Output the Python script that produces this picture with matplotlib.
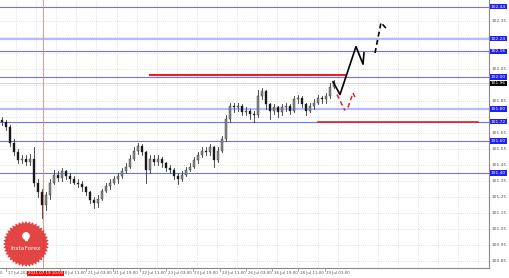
import numpy as np
import matplotlib
matplotlib.use("Agg")
import matplotlib.pyplot as plt
import matplotlib.patches as patches

# hourly candles (every candle here ~ a few bars of the original chart)
opens = [101.73, 101.72, 101.69, 101.59, 101.53, 101.48, 101.49, 101.47, 101.49, 101.34,
         101.28, 101.20, 101.26, 101.34, 101.39, 101.37, 101.41, 101.38, 101.36, 101.34,
         101.33, 101.31, 101.28, 101.23, 101.21, 101.24, 101.29, 101.32, 101.34, 101.36,
         101.38, 101.41, 101.44, 101.49, 101.54, 101.57, 101.53, 101.42, 101.49, 101.47,
         101.49, 101.46, 101.43, 101.42, 101.38, 101.36, 101.39, 101.42, 101.44, 101.48,
         101.51, 101.54, 101.53, 101.56, 101.48, 101.54, 101.61, 101.74, 101.82, 101.81,
         101.82, 101.78, 101.79, 101.77, 101.76, 101.88, 101.91, 101.83, 101.79, 101.81,
         101.78, 101.81, 101.82, 101.79, 101.86, 101.87, 101.83, 101.79, 101.82, 101.84,
         101.87, 101.86, 101.88, 101.94]
closes = [101.72, 101.69, 101.59, 101.53, 101.48, 101.49, 101.47, 101.49, 101.34, 101.28,
          101.20, 101.26, 101.34, 101.39, 101.37, 101.41, 101.38, 101.36, 101.34, 101.33,
          101.31, 101.28, 101.23, 101.21, 101.24, 101.29, 101.32, 101.34, 101.36, 101.38,
          101.41, 101.44, 101.49, 101.54, 101.57, 101.53, 101.42, 101.49, 101.47, 101.49,
          101.46, 101.43, 101.42, 101.38, 101.36, 101.39, 101.42, 101.44, 101.48, 101.51,
          101.54, 101.53, 101.56, 101.48, 101.54, 101.61, 101.74, 101.82, 101.81, 101.82,
          101.78, 101.79, 101.77, 101.76, 101.88, 101.91, 101.83, 101.79, 101.81, 101.78,
          101.81, 101.82, 101.79, 101.86, 101.87, 101.83, 101.79, 101.82, 101.84, 101.87,
          101.86, 101.88, 101.94, 101.96]
highs = [101.75, 101.73, 101.70, 101.61, 101.55, 101.51, 101.51, 101.52, 101.56, 101.36,
         101.30, 101.28, 101.36, 101.42, 101.41, 101.43, 101.42, 101.40, 101.38, 101.36,
         101.35, 101.32, 101.29, 101.25, 101.26, 101.30, 101.34, 101.36, 101.38, 101.40,
         101.43, 101.46, 101.51, 101.56, 101.59, 101.58, 101.54, 101.51, 101.51, 101.51,
         101.50, 101.47, 101.45, 101.43, 101.40, 101.41, 101.44, 101.46, 101.50, 101.53,
         101.56, 101.56, 101.58, 101.57, 101.56, 101.63, 101.76, 101.84, 101.84, 101.84,
         101.83, 101.81, 101.80, 101.79, 101.92, 101.93, 101.92, 101.84, 101.83, 101.82,
         101.83, 101.84, 101.83, 101.88, 101.89, 101.88, 101.84, 101.84, 101.86, 101.89,
         101.88, 101.90, 101.96, 101.98]
lows = [101.70, 101.67, 101.57, 101.51, 101.46, 101.46, 101.45, 101.45, 101.32, 101.25,
        101.12, 101.17, 101.24, 101.33, 101.35, 101.35, 101.36, 101.34, 101.33, 101.31,
        101.29, 101.26, 101.21, 101.18, 101.19, 101.23, 101.28, 101.30, 101.33, 101.34,
        101.37, 101.40, 101.43, 101.48, 101.52, 101.51, 101.34, 101.40, 101.45, 101.45,
        101.44, 101.41, 101.40, 101.36, 101.33, 101.35, 101.38, 101.41, 101.43, 101.46,
        101.50, 101.51, 101.51, 101.44, 101.47, 101.53, 101.60, 101.72, 101.78, 101.79,
        101.76, 101.76, 101.74, 101.72, 101.75, 101.86, 101.80, 101.74, 101.77, 101.75,
        101.76, 101.79, 101.77, 101.78, 101.84, 101.81, 101.76, 101.78, 101.80, 101.83,
        101.84, 101.84, 101.87, 101.93]

# horizontal levels
blue_levels = [102.44, 102.16, 102.00, 101.72, 101.60, 101.40]
light_levels = [102.24, 101.80]
current_price = 101.96
price_ticks = [100.85, 100.95, 101.05, 101.15, 101.25, 101.35, 101.45, 101.55,
               101.65, 101.75, 101.85, 101.95, 102.05, 102.15, 102.25, 102.35]

time_labels = ["17 Jul 2021", "18 Jul 11:00", "21 Jul 03:00", "21 Jul 19:00",
               "22 Jul 11:00", "23 Jul 03:00", "23 Jul 19:00", "24 Jul 11:00",
               "26 Jul 03:00", "26 Jul 19:00", "28 Jul 11:00", "29 Jul 03:00"]
time_pos = [6, 60, 86, 113, 140, 166, 193, 220, 246, 272, 298, 325]

# forecast sketches (x in chart pixels, y in price)
black_x = [333, 340, 356, 363, 364]
black_y = [101.97, 101.89, 102.19, 102.08, 102.15]
black_dash_x = [375, 381, 388]
black_dash_y = [102.15, 102.34, 102.29]
red_dash1_x = [337, 345]
red_dash1_y = [101.89, 101.79]
red_dash2_x = [348, 353, 356]
red_dash2_y = [101.81, 101.90, 101.86]

W, H = 510, 278
fig = plt.figure(figsize=(W / 100, H / 100), dpi=100)
ax = fig.add_axes([0, 10 / H, 489 / W, 268 / H])
ax.set_xlim(0, 489)
ax.set_ylim(100.806, 102.481)
ax.set_xticks([])
ax.set_yticks([])
for s in ["top", "left"]:
    ax.spines[s].set_visible(False)
ax.spines["right"].set_color("#888888")
ax.spines["bottom"].set_color("#888888")
ax.spines["right"].set_linewidth(0.8)
ax.spines["bottom"].set_linewidth(0.8)

# dotted grid
for p in price_ticks:
    ax.axhline(p, color="#c8c8c8", lw=0.5, ls=(0, (1, 2)), zorder=0)
for gx in np.arange(16, 489, 20.1):
    ax.axvline(gx, color="#c8c8c8", lw=0.5, ls=(0, (1, 2)), zorder=0)

# levels
for p in blue_levels:
    ax.axhline(p, color="#7070f0", lw=0.8, zorder=1)
for p in light_levels:
    ax.axhline(p, color="#b8b8ff", lw=1.6, zorder=1)
ax.axhline(current_price, color="#d0d0d0", lw=0.6, zorder=1)

# red crosshair line
ax.axvline(43, color="#f08080", lw=0.6, zorder=1)

# candles
xs = 2 + 4 * np.arange(len(closes))
for x, o, h, l, c in zip(xs, opens, highs, lows, closes):
    ax.plot([x, x], [l, h], color="#333333", lw=0.6, zorder=3)
    face = "#8a8a8a" if c >= o else "#111111"
    ax.add_patch(patches.Rectangle((x - 0.9, min(o, c)), 1.8, max(abs(c - o), 0.004),
                                   facecolor=face, edgecolor="#333333", lw=0.3, zorder=4))

# red resistance/support lines
ax.plot([150, 345], [102.01, 102.01], color="#e82020", lw=1.5, zorder=5)
ax.plot([318, 478], [101.72, 101.72], color="#e82020", lw=1.2, zorder=5)

# forecast paths
ax.plot(black_x, black_y, color="black", lw=1.2, zorder=6)
ax.plot(black_dash_x, black_dash_y, color="black", lw=1.2, ls=(0, (3, 2)), zorder=6)
ax.plot(red_dash1_x, red_dash1_y, color="#e82020", lw=1.1, ls=(0, (3, 2)), zorder=6)
ax.plot(red_dash2_x, red_dash2_y, color="#e82020", lw=1.1, ls=(0, (3, 2)), zorder=6)

# right price scale (plain ticks hidden where a level box sits on them)
boxed = blue_levels + light_levels + [current_price]
for p in price_ticks:
    if min(abs(p - b) for b in boxed) < 0.035:
        continue
    ax.text(492, p, "%.2f" % p, fontsize=3.2, color="#555555", va="center", ha="left", clip_on=False)
for p in blue_levels + light_levels:
    ax.text(491, p, "%.2f" % p, fontsize=3.2, color="white", va="center", ha="left", clip_on=False,
            zorder=10, bbox=dict(boxstyle="square,pad=0.15", fc="#2020f0", ec="none"))
ax.text(491, current_price, "%.2f" % current_price, fontsize=3.2, color="white", va="center",
        ha="left", clip_on=False, zorder=10, bbox=dict(boxstyle="square,pad=0.15", fc="black", ec="none"))

# time scale
tr = ax.get_xaxis_transform()
ax.text(0, -0.012, "0", fontsize=2.9, color="#555555", transform=tr, va="top", ha="left", clip_on=False)
for x, lab in zip(time_pos, time_labels):
    ax.plot([x, x], [0, -0.01], color="#888888", lw=0.5, transform=tr, clip_on=False)
    ax.text(x + 1.5, -0.012, lab, fontsize=2.9, color="#555555", transform=tr, va="top", ha="left",
            clip_on=False)
ax.text(28, -0.012, "2021.07.19 10:00", fontsize=2.9, color="white", transform=tr, va="top",
        ha="left", clip_on=False, zorder=10, bbox=dict(boxstyle="square,pad=0.15", fc="#f01010", ec="none"))

# instaforex badge
fax = fig.add_axes([0, 0, 1, 1], facecolor="none")
fax.set_xlim(0, W)
fax.set_ylim(H, 0)
fax.axis("off")
ang = np.linspace(0, 2 * np.pi, 81)
rad = np.where(np.arange(81) % 2 == 0, 23, 20.5)
fax.fill(26 + rad * np.cos(ang), 244 + rad * np.sin(ang), color="#e03030", alpha=0.9, lw=0)
fax.add_patch(patches.Circle((26, 236), 3.2, color="white"))
fax.add_patch(patches.Rectangle((24.6, 236), 2.8, 4, color="white"))
fax.text(26, 249, "InstaForex", fontsize=4.2, color="white", ha="center", va="center")

fig.savefig("out.png", dpi=100)
